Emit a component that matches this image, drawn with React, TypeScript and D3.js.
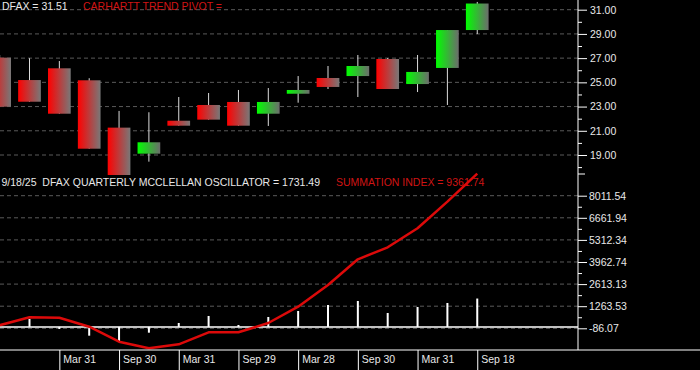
import React, { useEffect, useRef } from "react";
import * as d3 from "d3";

// quarterly bars, Sep 2021 .. Sep 18 2025
const quarters = [
  "Sep 30", "Dec 31", "Mar 31", "Jun 30", "Sep 30", "Dec 30", "Mar 31", "Jun 30",
  "Sep 29", "Dec 29", "Mar 28", "Jun 28", "Sep 30", "Dec 31", "Mar 31", "Jun 30", "Sep 18",
];
const opens = [27.04, 25.19, 26.16, 25.17, 21.26, 19.11, 21.83, 23.13, 23.38, 22.41, 24.06, 25.36, 25.52, 26.93, 24.86, 26.19, 29.32];
const highs = [27.26, 26.99, 26.76, 25.34, 22.64, 22.53, 23.79, 24.12, 24.37, 24.53, 25.52, 26.35, 27.26, 27.01, 27.26, 29.32, 31.64];
const lows = [22.99, 23.4, 22.41, 19.52, 17.1, 18.45, 21.42, 21.92, 21.42, 21.4, 23.32, 24.45, 23.79, 24.45, 24.2, 23.13, 28.99];
const closes = [22.99, 23.4, 22.41, 19.52, 17.1, 20.05, 21.42, 21.92, 21.42, 23.38, 24.37, 24.62, 26.35, 24.45, 25.86, 29.32, 31.51];

const oscillator = [100, 482, -128, -537, -861, -354, 238, 666, 116, 605, 971, 1337, 1582, 849, 1215, 1460, 1731.49];
const summation = [100, 586, 562, 12, -904, -1307, -1063, -330, -330, 238, 1234, 2560, 4128, 4861, 6021, 7646, 9361.74];

const priceTicks = [19, 21, 23, 25, 27, 29, 31];
const priceMinorTicks = [18, 20, 22, 24, 26, 28, 30];
const oscTicks = [-86.07, 1263.53, 2613.13, 3962.74, 5312.34, 6661.94, 8011.54];

const FONT = "'Liberation Sans', Arial, sans-serif";

const App = () => {
  const ref = useRef(null);

  useEffect(() => {
    if (ref.current) drawChart(ref.current);
  }, []);

  return (
    <svg
      ref={ref}
      width={700}
      height={370}
      style={{ position: "fixed", left: 0, top: 0, display: "block", background: "#000" }}
    />
  );
};

function drawChart(node) {
  const svg = d3.select(node);
  svg.selectAll("*").remove();

  const W = 700;
  const axisX = 578;
  const topBottom = 175;
  const xAxisY = 350;

  const idx = d3.range(quarters.length);
  const x = d3.scalePoint().domain(idx).range([-0.35, 477.25]);
  const yTop = d3.scaleLinear().domain([19, 31]).range([155, 9.7]);
  const yBot = d3.scaleLinear().domain([-86.07, 8011.54]).range([328.3, 195.7]);
  const bodyW = 22.7;

  svg.append("rect").attr("width", W).attr("height", 370).attr("fill", "#000");

  const defs = svg.append("defs");
  const grad = (id, c0, c1) => {
    const g = defs.append("linearGradient").attr("id", id).attr("x1", 0).attr("x2", 1).attr("y1", 0).attr("y2", 0);
    g.append("stop").attr("offset", "0%").attr("stop-color", c0);
    g.append("stop").attr("offset", "100%").attr("stop-color", c1);
  };
  grad("gRed", "#ff0000", "#787878");
  grad("gGreen", "#00ff00", "#6c6c6c");

  defs.append("clipPath").attr("id", "clipTop")
    .append("rect").attr("x", 0).attr("y", 0).attr("width", axisX).attr("height", topBottom);
  defs.append("clipPath").attr("id", "clipBot")
    .append("rect").attr("x", 0).attr("y", topBottom).attr("width", axisX).attr("height", xAxisY - topBottom);

  // grid lines
  const grid = svg.append("g").attr("stroke", "#5a5a5a").attr("stroke-dasharray", "4,3");
  grid.selectAll(".gt").data(priceTicks).enter().append("line")
    .attr("x1", 0).attr("x2", axisX).attr("y1", (d) => yTop(d)).attr("y2", (d) => yTop(d));
  grid.selectAll(".gb").data(oscTicks).enter().append("line")
    .attr("x1", 0).attr("x2", axisX).attr("y1", (d) => yBot(d)).attr("y2", (d) => yBot(d));

  // headers
  const txt = (tx, ty, s, c) =>
    svg.append("text").attr("x", tx).attr("y", ty).attr("fill", c)
      .style("font-family", FONT).style("font-size", "10.5px").style("white-space", "pre").text(s);
  txt(2, 9.5, "DFAX = 31.51", "#e8e8e8");
  txt(83, 9.5, "CARHARTT TREND PIVOT =", "#d01414");
  txt(1.5, 185.7, "9/18/25  DFAX QUARTERLY MCCLELLAN OSCILLATOR = 1731.49", "#e8e8e8");
  txt(336, 185.7, "SUMMATION INDEX = 9361.74", "#d01414");

  // candles
  const top = svg.append("g").attr("clip-path", "url(#clipTop)");
  top.selectAll(".wick").data(idx).enter().append("line")
    .attr("x1", (i) => x(i)).attr("x2", (i) => x(i))
    .attr("y1", (i) => yTop(highs[i])).attr("y2", (i) => yTop(lows[i]))
    .attr("stroke", "#dcdcdc").attr("stroke-width", 1);
  top.selectAll(".body").data(idx).enter().append("rect")
    .attr("x", (i) => x(i) - bodyW / 2)
    .attr("width", bodyW)
    .attr("y", (i) => yTop(Math.max(opens[i], closes[i])))
    .attr("height", (i) => Math.max(1.5, Math.abs(yTop(opens[i]) - yTop(closes[i]))))
    .attr("fill", (i) => (closes[i] >= opens[i] ? "url(#gGreen)" : "url(#gRed)"));

  // oscillator histogram + summation line
  const bot = svg.append("g").attr("clip-path", "url(#clipBot)");
  bot.append("line").attr("x1", 0).attr("x2", axisX)
    .attr("y1", yBot(0)).attr("y2", yBot(0)).attr("stroke", "#fff").attr("stroke-width", 1.5);
  bot.selectAll(".osc").data(idx).enter().append("rect")
    .attr("x", (i) => x(i) - 1)
    .attr("width", 2)
    .attr("y", (i) => Math.min(yBot(0), yBot(oscillator[i])))
    .attr("height", (i) => Math.abs(yBot(oscillator[i]) - yBot(0)))
    .attr("fill", "#fff");

  const line = d3.line().x((i) => x(i)).y((i) => yBot(summation[i]));
  svg.append("path").datum(idx)
    .attr("d", line)
    .attr("fill", "none")
    .attr("stroke", "#dc0a0a")
    .attr("stroke-width", 2.5)
    .attr("stroke-linejoin", "round");

  // right axes
  const fmt = (d) => d.toFixed(2);
  const styleAxis = (g) => {
    g.select(".domain").remove();
    g.selectAll("line").attr("stroke", "#fff");
    g.selectAll("text").attr("fill", "#e8e8e8").style("font-family", FONT).style("font-size", "10.5px");
  };
  svg.append("g").attr("transform", `translate(${axisX},0)`)
    .call(d3.axisRight(yTop).tickValues(priceTicks).tickSize(9).tickPadding(3).tickFormat(fmt))
    .call(styleAxis);
  svg.append("g").attr("transform", `translate(${axisX},0)`)
    .call(d3.axisRight(yTop).tickValues(priceMinorTicks).tickSize(4).tickFormat(() => ""))
    .call(styleAxis);
  svg.append("g").attr("transform", `translate(${axisX},0)`)
    .call(d3.axisRight(yBot).tickValues(oscTicks).tickSize(9).tickPadding(2).tickFormat(fmt))
    .call(styleAxis);
  svg.append("g").attr("transform", `translate(${axisX},0)`)
    .call(d3.axisRight(yBot).tickValues(d3.pairs(oscTicks).map(([a, b]) => (a + b) / 2)).tickSize(4).tickFormat(() => ""))
    .call(styleAxis);
  svg.append("line").attr("x1", axisX).attr("x2", axisX + 7).attr("y1", 174).attr("y2", 174).attr("stroke", "#fff");
  svg.append("line").attr("x1", axisX).attr("x2", axisX).attr("y1", 0).attr("y2", xAxisY).attr("stroke", "#fff");

  // bottom date axis
  const labelled = idx.filter((i) => i > 0 && i % 2 === 0);
  const xg = svg.append("g").attr("transform", `translate(0,${xAxisY})`)
    .call(d3.axisBottom(x).tickValues(labelled).tickSize(20).tickFormat((i) => quarters[i]));
  xg.select(".domain").remove();
  xg.selectAll("line").attr("stroke", "#fff");
  xg.selectAll("text")
    .attr("fill", "#e8e8e8")
    .attr("text-anchor", "start")
    .attr("x", 3.5)
    .attr("y", 12.5)
    .attr("dy", null)
    .style("font-family", FONT)
    .style("font-size", "10.5px");
  svg.append("line").attr("x1", 0).attr("x2", W).attr("y1", xAxisY).attr("y2", xAxisY).attr("stroke", "#fff");
}

export default App;
